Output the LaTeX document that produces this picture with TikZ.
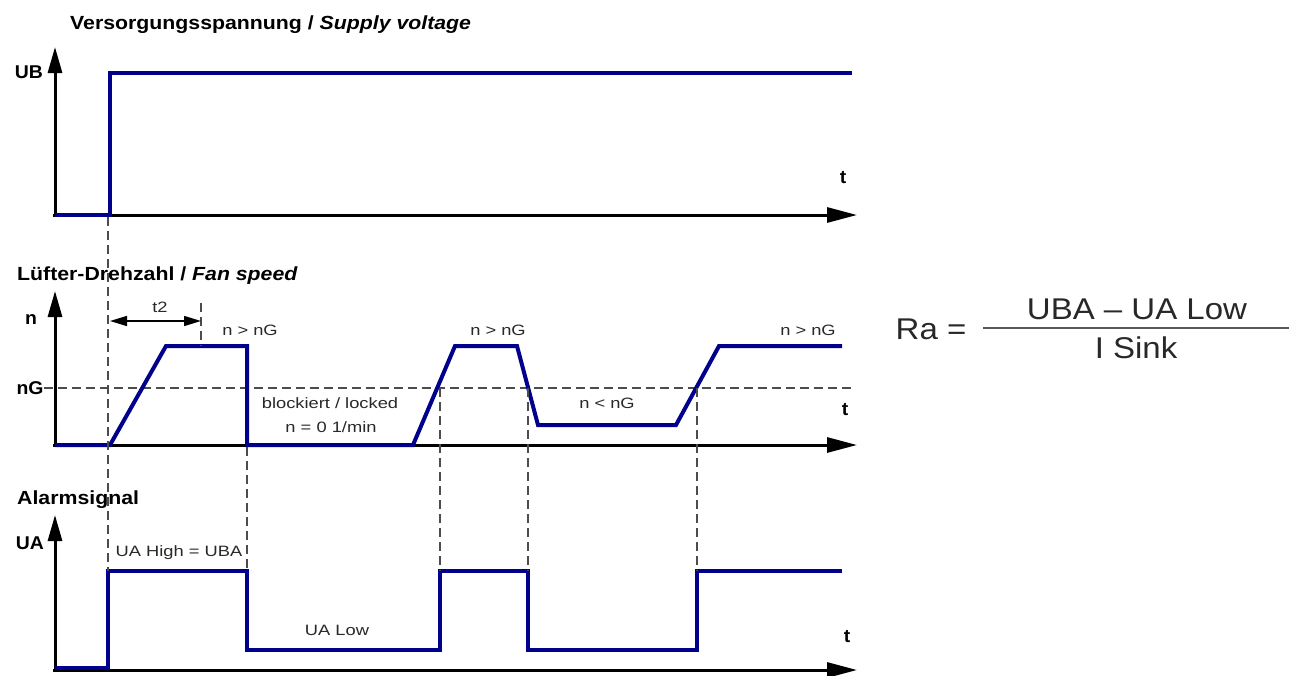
\documentclass[tikz,border=0pt]{standalone}
\usepackage{fontspec}
\setmainfont{Liberation Sans}[FakeStretch=1.12]
\newfontfamily\formfont{Liberation Sans}[FakeStretch=1.1]
\newfontfamily\smallfont{Liberation Sans}[FakeStretch=1.22]
\newfontfamily\axfont{Liberation Sans}[FakeStretch=1.05]
\usetikzlibrary{arrows.meta}
\definecolor{sigblue}{RGB}{0,0,140}
\definecolor{txt}{RGB}{40,40,40}
\begin{document}
\begin{tikzpicture}[x=1pt,y=-1pt,
  sig/.style={line width=4pt, draw=sigblue, line join=miter},
  vaxis/.style={line width=3pt, -{Triangle[length=26pt,width=14pt]}},
  haxis/.style={line width=3pt, -{Triangle[length=30pt,width=15pt]}},
  guide/.style={line width=1.4pt, draw=black!70, dash pattern=on 9pt off 5pt},
  title/.style={font=\fontsize{19}{22}\selectfont\bfseries, text=black, inner sep=0pt},
  axlbl/.style={font=\fontsize{18.5}{21}\selectfont\axfont\bfseries, text=black, inner sep=0pt},
  small/.style={font=\fontsize{15}{17}\selectfont\smallfont, text=txt, inner sep=0pt},
  form/.style={font=\fontsize{30}{34}\selectfont\formfont, text=txt, inner sep=0pt}]
\useasboundingbox (0,0) rectangle (1289,675);

% ---------- Panel 1: supply voltage ----------
\node[title, anchor=west] (t1) at (70,25) {Versorgungsspannung / \textit{Supply voltage}};
\draw[vaxis] (55,217) -- (55,47);
\draw[haxis] (53,215) -- (857,215);
\node[axlbl] (ub) at (29,72) {UB};
\node[axlbl] (tt1) at (843,178) {t};
\draw[sig] (55,215) -- (110,215) -- (110,73) -- (852,73);

% ---------- Panel 2: fan speed ----------
\node[title, anchor=west] (t2) at (17,276) {Lüfter-Drehzahl /\ \textit{Fan speed}};
\draw[vaxis] (55,447) -- (55,291);
\draw[haxis] (53,445) -- (857,445);
\node[axlbl] (nl) at (31,320) {n};
\node[axlbl] (ng) at (30,388) {nG};
\node[axlbl] (tt2) at (845,410) {t};
\draw[guide] (44,388) -- (855,388);
\draw[sig] (55,445) -- (110,445) -- (166,346) -- (247,346) -- (247,445) -- (413,445)
  -- (455,346) -- (517,346) -- (538,425) -- (676,425) -- (719,346) -- (842,346);
% t2 marker
\coordinate (t2a) at (110,321);
\coordinate (t2b) at (201,321);
\draw[guide] (201,303) -- (201,346);
\draw[line width=1.5pt, {Triangle[length=17pt,width=10pt]}-{Triangle[length=17pt,width=10pt]}] (t2a) -- (t2b);
\node[small] (lt2) at (160,307) {t2};
\node[small] (g1) at (250,330) {n > nG};
\node[small] (g2) at (498,330) {n > nG};
\node[small] (g3) at (808,330) {n > nG};
\node[small] (lk) at (607,403) {n < nG};
\node[small] (bl) at (330,403) {blockiert / locked};
\node[small] (n0) at (331,427) {n = 0 1/min};

% ---------- Panel 3: alarm ----------
\node[title, anchor=west] (t3) at (17,500) {Alarmsignal};
\draw[vaxis] (55,672) -- (55,515);
\draw[haxis] (53,670) -- (857,670);
\node[axlbl] (ua) at (30,543) {UA};
\node[axlbl] (tt3) at (847,637) {t};
\draw[sig] (55,668) -- (108,668) -- (108,571) -- (247,571) -- (247,650) -- (440,650)
  -- (440,571) -- (528,571) -- (528,650) -- (697,650) -- (697,571) -- (842,571);
\node[small] (uh) at (179,553) {UA High = UBA};
\node[small] (ul) at (337,630) {UA Low};

% ---------- guides across panels ----------
\draw[guide] (108,217) -- (108,571);
\draw[guide] (247,447) -- (247,571);
\draw[guide] (440,388) -- (440,571);
\draw[guide] (528,388) -- (528,571);
\draw[guide] (697,388) -- (697,571);

% ---------- formula ----------
\node[form] (ra) at (931,329) {Ra =};
\node[form] (num) at (1137,309) {UBA – UA Low};
\node[form] (den) at (1136,348) {I Sink};
\coordinate (fl) at (983,328);
\coordinate (fr) at (1289,328);
\draw[line width=2pt, draw=black!65] (fl) -- (fr);
\end{tikzpicture}
\end{document}
